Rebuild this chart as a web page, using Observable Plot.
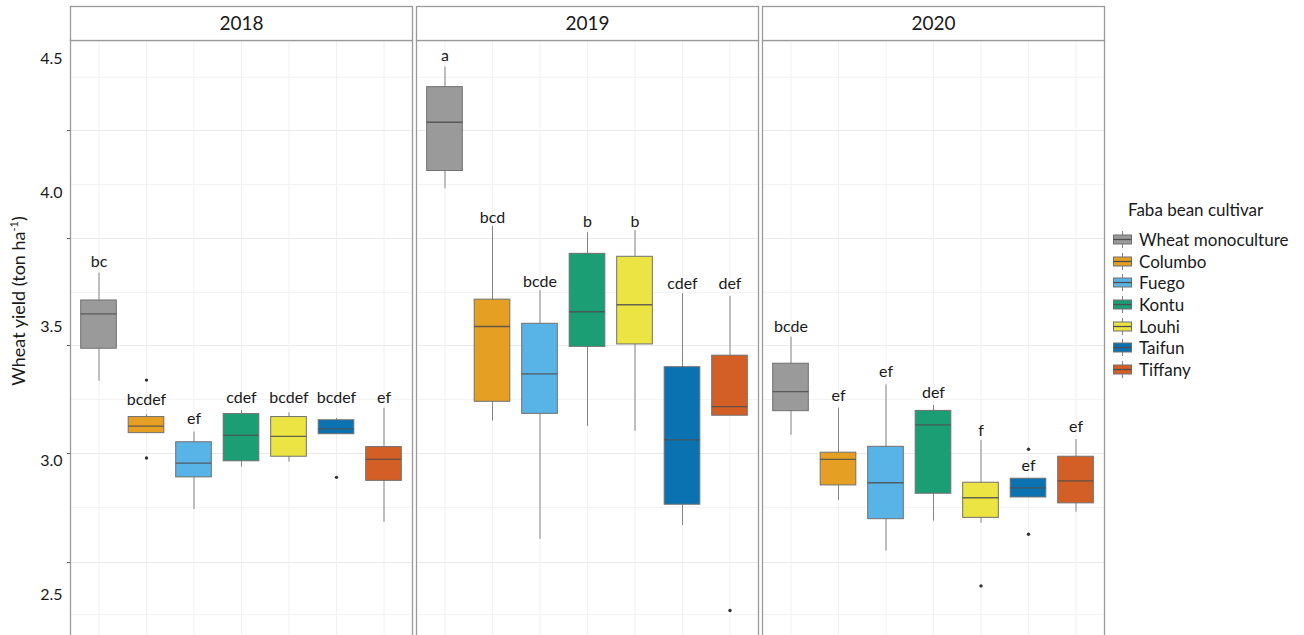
<!DOCTYPE html>
<html>
<head>
<meta charset="utf-8">
<script src="https://cdn.jsdelivr.net/npm/d3@7"></script>
<script src="https://cdn.jsdelivr.net/npm/@observablehq/plot@0.6"></script>
<style>
  body { margin: 0; overflow: hidden; background: #fff; font-family: Lato, "Open Sans", sans-serif; }
  #wrap { position: relative; width: 1304px; height: 635px; }
  #legend { position: absolute; left: 1113px; top: 199px; font-size: 17px; color: #1a1a1a; }
  #legend .ttl { height: 21px; line-height: 21px; padding-left: 15px; margin-bottom: 9px; }
  #legend .item { display: flex; align-items: center; height: 21.6px; }
  #legend .item svg { margin-right: 7px; flex: none; }
</style>
</head>
<body>
<div id="wrap"></div>
<script>
// Trial years (facets) and treatments (boxes within each facet)
const years = ["2018", "2019", "2020"];
const cultivars = ["Wheat monoculture", "Columbo", "Fuego", "Kontu", "Louhi", "Taifun", "Tiffany"];
const colors = ["#9A9A9A", "#E5A024", "#58B3E6", "#1B9E74", "#ECE442", "#0B72B2", "#D45F26"];

// Box statistics, wheat yield (ton/ha); one row per year, cultivar order as above
const whiskerLow = [
  3.296, 3.100, 2.817, 2.975, 2.994, 3.098, 2.770,
  4.014, 3.147, 2.706, 3.127, 3.109, 2.757, 3.167,
  3.094, 2.851, 2.662, 2.774, 2.766, 2.862, 2.807
];
const quartile1 = [
  3.417, 3.102, 2.937, 2.997, 3.014, 3.098, 2.924,
  4.080, 3.219, 3.174, 3.424, 3.433, 2.835, 3.167,
  3.184, 2.907, 2.781, 2.876, 2.786, 2.862, 2.840
];
const median = [
  3.547, 3.128, 2.990, 3.094, 3.090, 3.118, 3.004,
  4.262, 3.500, 3.323, 3.555, 3.581, 3.077, 3.201,
  3.257, 3.004, 2.917, 3.133, 2.861, 2.898, 2.924
];
const quartile3 = [
  3.597, 3.162, 3.068, 3.173, 3.162, 3.150, 3.050,
  4.393, 3.600, 3.510, 3.771, 3.760, 3.348, 3.391,
  3.361, 3.029, 3.051, 3.185, 2.917, 2.932, 3.014
];
const whiskerHigh = [
  3.699, 3.171, 3.106, 3.187, 3.178, 3.157, 3.195,
  4.468, 3.873, 3.634, 3.850, 3.858, 3.622, 3.612,
  3.460, 3.195, 3.282, 3.205, 3.075, 2.932, 3.078
];

// Compact letter display of the mean comparison, and the height it is written at
const letters = [
  "bc", "bcdef", "ef", "cdef", "bcdef", "bcdef", "ef",
  "a", "bcd", "bcde", "b", "b", "cdef", "def",
  "bcde", "ef", "ef", "def", "f", "ef", "ef"
];
const letterY = [
  3.740, 3.228, 3.156, 3.234, 3.232, 3.232, 3.232,
  4.508, 3.906, 3.665, 3.890, 3.890, 3.659, 3.659,
  3.497, 3.240, 3.332, 3.253, 3.112, 2.979, 3.124
];

// Outlying plots
const outlierYear = ["2018", "2018", "2018", "2019", "2020", "2020", "2020"];
const outlierCultivar = ["Columbo", "Columbo", "Taifun", "Tiffany", "Louhi", "Taifun", "Taifun"];
const outlierValue = [3.300, 3.009, 2.937, 2.440, 2.532, 3.042, 2.725];

// Value axis: labelled values, grid breaks, visible extent
const yTickLabels = [2.5, 3.0, 3.5, 4.0, 4.5];
const gridMajor = [2.619, 3.026, 3.429, 3.828, 4.231];
const gridMinor = [2.425, 2.825, 3.228, 3.627, 4.030, 4.430];
const yExtent = [2.347, 4.567];

const rows = years.flatMap((year, i) => cultivars.map((cultivar, j) => {
  const k = i * cultivars.length + j;
  return {
    year, cultivar,
    lo: whiskerLow[k], q1: quartile1[k], med: median[k], q3: quartile3[k], hi: whiskerHigh[k],
    letter: letters[k], letterAt: letterY[k]
  };
}));
const outliers = outlierValue.map((v, i) => ({year: outlierYear[i], cultivar: outlierCultivar[i], value: v}));

const W = 1304, H = 635, MT = 40, ML = 70, MR = 200;
const panelH = H - MT;

const chart = Plot.plot({
  width: W,
  height: H,
  marginTop: MT,
  marginLeft: ML,
  marginRight: MR,
  marginBottom: 0,
  style: {fontFamily: "Lato, 'Open Sans', sans-serif", fontSize: "16px", background: "white", color: "#1a1a1a"},
  fx: {domain: years, paddingInner: 4 / 346, paddingOuter: 0, round: false, axis: null, label: null},
  x: {domain: cultivars, paddingInner: 0.25, paddingOuter: 0.225, round: false, axis: null},
  y: {domain: yExtent, axis: null},
  color: {domain: cultivars, range: colors},
  marks: [
    // panel grid
    Plot.ruleY(gridMinor, {stroke: "#f2f2f2", strokeWidth: 1}),
    Plot.ruleY(gridMajor, {stroke: "#ebebeb", strokeWidth: 1}),
    Plot.ruleX(cultivars, {x: d => d, stroke: "#f0f0f0", strokeWidth: 1}),
    // value axis on the first panel
    Plot.axisY(gridMajor, {anchor: "left", tickSize: 3, tickFormat: () => "", stroke: "#555"}),
    Plot.axisY(yTickLabels, {anchor: "left", tickSize: 0, tickPadding: 8, fontSize: 16, fill: "#1a1a1a", tickFormat: d => d.toFixed(1)}),
    // boxplots
    Plot.ruleX(rows, {fx: "year", x: "cultivar", y1: "lo", y2: "hi", stroke: "#858585", strokeWidth: 1}),
    Plot.barY(rows, {fx: "year", x: "cultivar", y1: "q1", y2: "q3", fill: "cultivar", stroke: "#707070", strokeWidth: 1}),
    Plot.tickY(rows, {fx: "year", x: "cultivar", y: "med", stroke: "#4d4d4d", strokeOpacity: 0.85, strokeWidth: 1.3}),
    Plot.dot(outliers, {fx: "year", x: "cultivar", y: "value", r: 1.7, fill: "#333", stroke: null}),
    Plot.text(rows, {fx: "year", x: "cultivar", y: "letterAt", text: "letter", fontSize: 16, fill: "#1a1a1a"}),
    // panel borders (bottom edge runs off the page) and facet strips
    Plot.frame({stroke: "#9a9a9a", strokeWidth: 1.3, insetBottom: -6}),
    Plot.frame({fill: "white", stroke: "#9a9a9a", strokeWidth: 1.3, insetTop: -34, insetBottom: panelH}),
    Plot.text(years, {fx: d => d, text: d => d, frameAnchor: "top", lineAnchor: "middle", dy: -17, fontSize: 19, fill: "#1a1a1a"})
  ]
});

// Axis title with superscript unit
const title = d3.select(chart).append("text")
  .attr("transform", "translate(25,301) rotate(-90)")
  .attr("text-anchor", "middle")
  .attr("font-size", 18)
  .attr("fill", "#1a1a1a");
title.append("tspan").text("Wheat yield (ton ha");
title.append("tspan").attr("font-size", 11).attr("dy", -7).text("-1");
title.append("tspan").attr("dy", 7).text(")");

const wrap = document.getElementById("wrap");
wrap.appendChild(chart);

// Legend
const legend = document.createElement("div");
legend.id = "legend";
const ttl = document.createElement("div");
ttl.className = "ttl";
ttl.textContent = "Faba bean cultivar";
legend.appendChild(ttl);
cultivars.forEach((c, i) => {
  const item = document.createElement("div");
  item.className = "item";
  const sw = d3.create("svg").attr("width", 19).attr("height", 17);
  sw.append("line").attr("x1", 9.5).attr("x2", 9.5).attr("y1", 0).attr("y2", 17).attr("stroke", "#858585");
  sw.append("rect").attr("x", 0.5).attr("y", 4).attr("width", 18).attr("height", 9)
    .attr("fill", colors[i]).attr("stroke", "#707070");
  sw.append("line").attr("x1", 0.5).attr("x2", 18.5).attr("y1", 8.5).attr("y2", 8.5)
    .attr("stroke", "#4d4d4d").attr("stroke-width", 1.3);
  item.appendChild(sw.node());
  const label = document.createElement("span");
  label.textContent = c;
  item.appendChild(label);
  legend.appendChild(item);
});
wrap.appendChild(legend);
</script>
</body>
</html>
